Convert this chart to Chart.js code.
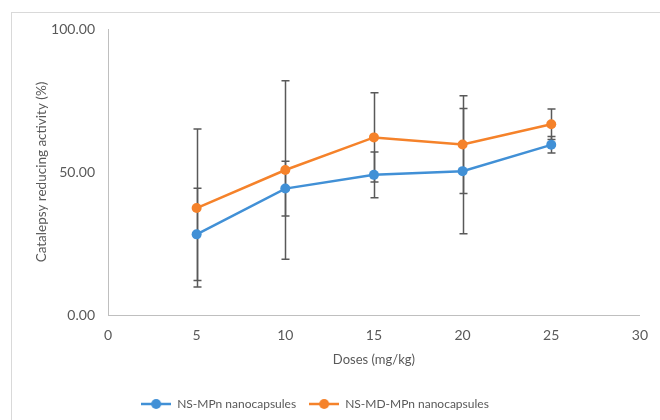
<!DOCTYPE html>
<html>
<head>
<meta charset="utf-8">
<script src="https://cdn.jsdelivr.net/npm/chart.js@4"></script>
<style>
  body { margin: 0; background: #fff; }
  #wrap { width: 660px; height: 420px; }
</style>
</head>
<body>
<div id="wrap"><canvas id="doseChart"></canvas></div>
<script>
// values
const doses = [5, 10, 15, 20, 25];
const seriesNames = ["NS-MPn nanocapsules", "NS-MD-MPn nanocapsules"];
const msMPn = [28.2, 44.2, 49.0, 50.3, 59.5];
const msMPnErr = [16.1, 9.6, 8.0, 21.9, 2.9];
const mdMPn = [37.4, 50.7, 62.1, 59.6, 66.7];
const mdMPnErr = [27.6, 31.2, 15.6, 17.1, 5.3];

const blue = "#4190d6";
const orange = "#f5822a";
const textGray = "#595959";
const fontFamily = "Lato, 'Open Sans', sans-serif";

// little line + dot icon for the legend, like the office style
function legendIcon(color) {
  const c = document.createElement("canvas");
  c.width = 30;
  c.height = 12;
  const g = c.getContext("2d");
  g.strokeStyle = color;
  g.lineWidth = 2.5;
  g.beginPath();
  g.moveTo(0, 6);
  g.lineTo(30, 6);
  g.stroke();
  g.fillStyle = color;
  g.beginPath();
  g.arc(15, 6, 5, 0, Math.PI * 2);
  g.fill();
  return c;
}

const errorBars = {
  id: "errorBars",
  beforeDatasetsDraw(chart) {
    const ctx = chart.ctx;
    const xs = chart.scales.x;
    const ys = chart.scales.y;
    ctx.save();
    ctx.strokeStyle = "#595959";
    ctx.lineWidth = 1.5;
    chart.data.datasets.forEach((ds) => {
      ds.data.forEach((pt, i) => {
        const err = ds.errors[i];
        const px = Math.round(xs.getPixelForValue(pt.x)) + 0.5;
        const top = ys.getPixelForValue(pt.y + err);
        const bot = ys.getPixelForValue(pt.y - err);
        ctx.beginPath();
        ctx.moveTo(px, top);
        ctx.lineTo(px, bot);
        ctx.moveTo(px - 4, top);
        ctx.lineTo(px + 4, top);
        ctx.moveTo(px - 4, bot);
        ctx.lineTo(px + 4, bot);
        ctx.stroke();
      });
    });
    ctx.restore();
  },
};

const frame = {
  id: "frame",
  beforeDraw(chart) {
    const ctx = chart.ctx;
    ctx.save();
    ctx.fillStyle = "#fff";
    ctx.fillRect(0, 0, chart.width, chart.height);
    ctx.strokeStyle = "#d9d9d9";
    ctx.lineWidth = 1;
    ctx.strokeRect(11.5, 12.5, 700, 500);
    ctx.restore();
  },
};

// the legend sits a bit left of the centre in the original
const legendShift = {
  id: "legendShift",
  afterLayout(chart) {
    chart.legend.left -= 21;
    chart.legend.right -= 21;
  },
};

function makeSet(label, ys, errs, color) {
  return {
    label: label,
    data: doses.map((d, i) => ({ x: d, y: ys[i] })),
    errors: errs,
    borderColor: color,
    backgroundColor: color,
    borderWidth: 2.5,
    pointRadius: 5,
    pointHoverRadius: 5,
    pointBorderWidth: 0,
    showLine: true,
    tension: 0,
  };
}

new Chart(document.getElementById("doseChart"), {
  type: "scatter",
  data: {
    datasets: [
      makeSet(seriesNames[0], msMPn, msMPnErr, blue),
      makeSet(seriesNames[1], mdMPn, mdMPnErr, orange),
    ],
  },
  options: {
    responsive: true,
    maintainAspectRatio: false,
    animation: false,
    layout: { padding: { left: 30, right: 18, top: 29, bottom: 0 } },
    scales: {
      x: {
        type: "linear",
        min: 0,
        max: 30,
        ticks: { stepSize: 5, color: textGray, padding: 12, font: { family: fontFamily, size: 14 } },
        grid: { display: false, drawTicks: false },
        border: { color: "#bfbfbf", width: 1 },
        title: {
          display: true,
          text: "Doses (mg/kg)",
          color: textGray,
          padding: { top: 4, bottom: 17 },
          font: { family: fontFamily, size: 13 },
        },
        afterFit: (s) => { s.height = 70; },
      },
      y: {
        min: 0,
        max: 100,
        ticks: {
          stepSize: 50,
          color: textGray,
          padding: 13,
          font: { family: fontFamily, size: 14 },
          callback: (v) => v.toFixed(2),
        },
        grid: { display: false, drawTicks: false },
        border: { color: "#bfbfbf", width: 1 },
        title: { display: true, text: "Catalepsy reducing activity (%)", color: textGray, font: { family: fontFamily, size: 13.5 } },
        afterFit: (s) => { s.width = 78; },
      },
    },
    plugins: {
      legend: {
        position: "bottom",
        labels: {
          usePointStyle: true,
          pointStyleWidth: 30,
          boxWidth: 30,
          padding: 13,
          color: textGray,
          font: { family: fontFamily, size: 12 },
          generateLabels: (chart) =>
            chart.data.datasets.map((ds, i) => ({
              text: ds.label,
              pointStyle: legendIcon(ds.borderColor),
              fillStyle: ds.borderColor,
              strokeStyle: ds.borderColor,
              lineWidth: 0,
              fontColor: textGray,
              datasetIndex: i,
            })),
        },
      },
      tooltip: { enabled: false },
    },
  },
  plugins: [frame, errorBars, legendShift],
});
</script>
</body>
</html>
